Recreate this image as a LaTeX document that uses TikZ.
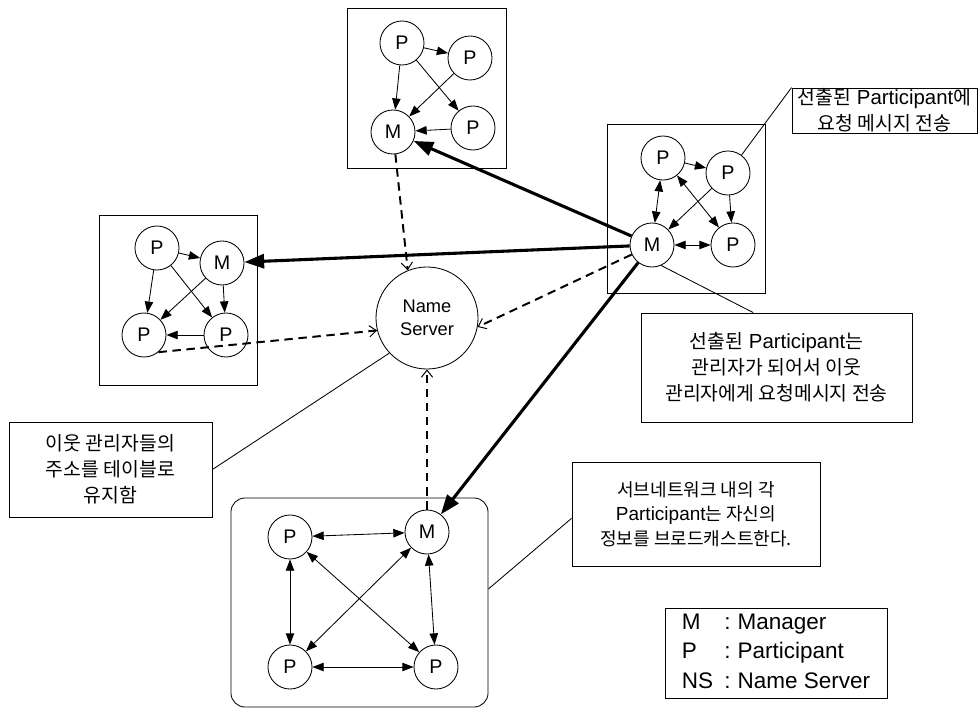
\documentclass[tikz,border=0pt]{standalone}
\usepackage{fontspec}
\setmainfont{Liberation Sans}
\newfontfamily\kr{Noto Sans CJK KR}[Scale=0.95]
\usetikzlibrary{arrows.meta}
\tikzset{
  pnode/.style={
    circle, draw, line width=0.6pt, fill=white,
    minimum size=1.1cm, inner sep=0pt,
    font=\fontsize{14}{16}\selectfont
  },
  nsnode/.style={
    circle, draw, line width=0.6pt, fill=white,
    minimum size=2.55cm, inner sep=0pt, align=center,
    font=\fontsize{13}{16}\selectfont
  },
  grp/.style={rectangle, draw, line width=0.6pt, inner sep=0pt},
  cbox/.style={
    rectangle, draw, line width=0.6pt, fill=white,
    align=center, inner sep=0pt,
    font=\fontsize{14.5}{18.4}\selectfont
  },
  arr/.style={-{Triangle[length=8pt,width=6pt]}, line width=0.6pt},
  barr/.style={{Triangle[length=8pt,width=6pt]}-{Triangle[length=8pt,width=6pt]}, line width=0.6pt},
  tarr/.style={-{Triangle[length=14pt,width=10pt]}, line width=2.2pt},
  darr/.style={-{Straight Barb[length=5pt,width=8pt,line width=0.7pt]}, line width=1.4pt, dash pattern=on 6pt off 4pt},
  cline/.style={line width=0.6pt},
}

\begin{document}
\begin{tikzpicture}[x=0.025cm, y=-0.025cm]
  \useasboundingbox (0,0) rectangle (979,709);

  % subnet boxes
  \node[grp, minimum width=3.975cm, minimum height=4cm]    (tgrp) at (426.5,88)    {};
  \node[grp, minimum width=3.95cm, minimum height=4.225cm] (rgrp) at (686,208.5)   {};
  \node[grp, minimum width=3.95cm, minimum height=4.25cm]  (lgrp) at (178,300)     {};
  \node[grp, rounded corners=10pt, minimum width=6.425cm, minimum height=5.225cm] (bgrp) at (359.5,602.5) {};

  % top subnet
  \node[pnode] (tp1) at (402,43)  {P};
  \node[pnode] (tp2) at (470,58)  {P};
  \node[pnode] (tm)  at (393,132) {M};
  \node[pnode] (tp3) at (473,128) {P};

  % right subnet
  \node[pnode] (rp1) at (663,158) {P};
  \node[pnode] (rp2) at (728,173) {P};
  \node[pnode] (rm)  at (652,245) {M};
  \node[pnode] (rp3) at (733,245) {P};

  % left subnet
  \node[pnode] (lp1) at (157,248) {P};
  \node[pnode] (lm)  at (222,263) {M};
  \node[pnode] (lp2) at (144,335) {P};
  \node[pnode] (lp3) at (226,335) {P};

  % bottom subnet
  \node[pnode] (bp1) at (290,537) {P};
  \node[pnode] (bm)  at (427,532) {M};
  \node[pnode] (bp2) at (290,667) {P};
  \node[pnode] (bp3) at (436,667) {P};

  \node[nsnode] (ns) at (427,318) {Name\\Server};

  \foreach \a/\b in {tp1/tp2, tp1/tm, tp1/tp3, tp2/tm, tp3/tm}
    \draw[arr] (\a) -- (\b);
  \foreach \a/\b in {rp1/rp2, rp2/rm, rp2/rp3}
    \draw[arr] (\a) -- (\b);
  \foreach \a/\b in {rp1/rm, rp1/rp3, rm/rp3}
    \draw[barr] (\a) -- (\b);
  \foreach \a/\b in {lp1/lm, lp1/lp2, lp1/lp3, lm/lp2, lm/lp3, lp3/lp2}
    \draw[arr] (\a) -- (\b);
  \foreach \a/\b in {bp1/bm, bp1/bp2, bm/bp3, bp2/bp3, bp1/bp3, bm/bp2}
    \draw[barr] (\a) -- (\b);

  % manager requests
  \foreach \n in {tm, lm, bm}
    \draw[tarr] (rm) -- (\n);

  % name server registration
  \draw[darr] (tm) -- (ns.112);
  \draw[darr] (rm) -- (ns.-10);
  \draw[darr] (lp2.-50) -- (ns.194);
  \draw[darr] (bm) -- (ns);

  % callouts
  \node[cbox, minimum width=4.625cm, minimum height=1.125cm] (trc) at (884.5,110.5)
    {{\kr 선출된} Participant{\kr 에}\\{\kr 요청 메시지 전송}};
  \node[cbox, minimum width=6.775cm, minimum height=2.725cm] (mrc) at (776.5,367.5)
    {{\kr 선출된} Participant{\kr 는}\\{\kr 관리자가 되어서 이웃}\\{\kr 관리자에게 요청메시지 전송}};
  \node[cbox, minimum width=5.075cm, minimum height=2.375cm] (lcall) at (110.5,469.5)
    {{\kr 이웃 관리자들의}\\{\kr 주소를 테이블로}\\{\kr 유지함}};
  \node[cbox, minimum width=6.2cm, minimum height=2.6cm, font=\fontsize{13.5}{17.5}\selectfont] (brc) at (696,514)
    {{\kr 서브네트워크 내의 각}\\Participant{\kr 는 자신의}\\{\kr 정보를 브로드캐스트한다.}};

  \draw[cline] (trc.north west) -- (rp2.53);
  \draw[cline] (mrc.113) -- (rm.-66);
  \draw[cline] (lcall.east) -- (ns.223);
  \draw[cline] (brc.182) -- (bgrp.6);

  % legend
  \node[cbox, minimum width=5.55cm, minimum height=2.25cm, font=\fontsize{16}{21}\selectfont] (lgd) at (776,653)
    {\begin{tabular}{@{}l@{\hspace{8pt}}c@{\hspace{5pt}}l@{}}
      M  & : & Manager\\
      P  & : & Participant\\
      NS & : & Name Server
    \end{tabular}};
\end{tikzpicture}
\end{document}
